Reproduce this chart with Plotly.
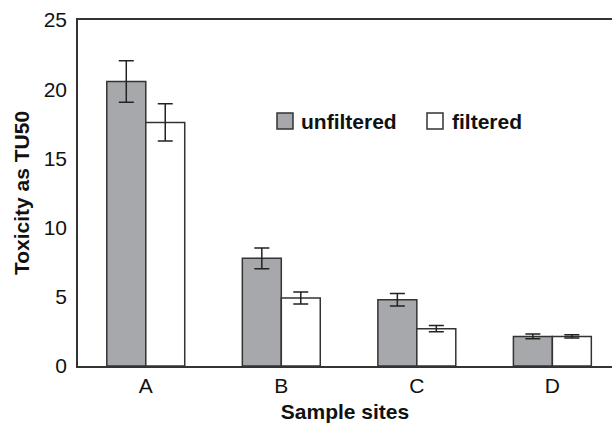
import plotly.graph_objects as go

sites = ["A", "B", "C", "D"]
unfiltered = [20.55, 7.78, 4.79, 2.14]
unfiltered_err = [1.5, 0.75, 0.45, 0.18]
filtered = [17.6, 4.91, 2.70, 2.14]
filtered_err = [1.35, 0.43, 0.22, 0.12]
y_ticks = [0, 5, 10, 15, 20, 25]

FONT = "Arial, 'Liberation Sans', Helvetica, sans-serif"
GRAY = "#a7a8ab"
EDGE = "#333333"

L, T, B = 78, 20, 57
W, H = 612, 423
PW, PH = W - L, H - T - B


def px_x(px):
    return (px - L) / PW


def px_y(py):
    return (H - B - py) / PH


fig = go.Figure()
fig.add_trace(go.Bar(
    x=sites, y=unfiltered, name="unfiltered",
    marker=dict(color=GRAY, line=dict(color=EDGE, width=1.5)),
    error_y=dict(type="data", array=unfiltered_err, visible=True,
                 color="#222222", thickness=1.5, width=7.5),
))
fig.add_trace(go.Bar(
    x=sites, y=filtered, name="filtered",
    marker=dict(color="white", line=dict(color=EDGE, width=1.5)),
    error_y=dict(type="data", array=filtered_err, visible=True,
                 color="#222222", thickness=1.5, width=7.5),
))

fig.update_layout(
    width=W, height=H,
    margin=dict(l=L, r=0, t=T, b=B, autoexpand=False),
    paper_bgcolor="white", plot_bgcolor="white",
    barmode="group", bargap=0.425, bargroupgap=0,
    showlegend=False,
    font=dict(family=FONT, color="#111111", size=21),
    xaxis=dict(
        range=[-0.5, 3.44], showline=True, linecolor=EDGE, linewidth=1.5,
        mirror=True, ticks="", showgrid=False, automargin=False,
        tickfont=dict(size=21), ticklabelstandoff=0,
        title=dict(text="<b>Sample sites</b>", font=dict(size=21), standoff=9),
    ),
    yaxis=dict(
        range=[0, 25], tickvals=y_ticks, showline=True, linecolor=EDGE,
        linewidth=1.5, mirror=False, ticks="", showgrid=False, zeroline=False,
        automargin=False,
        tickfont=dict(size=21), ticklabelstandoff=5,
        title=dict(text="<b>Toxicity as TU50</b>", font=dict(size=21), standoff=8),
    ),
)

# legend drawn manually (square swatches + bold labels)
legend_items = [("unfiltered", GRAY, 277, 301), ("filtered", "white", 427, 452)]
for label, color, sx, tx in legend_items:
    fig.add_shape(type="rect", xref="paper", yref="paper",
                  x0=px_x(sx), x1=px_x(sx + 16), y0=px_y(129), y1=px_y(113),
                  fillcolor=color, line=dict(color=EDGE, width=1.5))
    fig.add_annotation(xref="paper", yref="paper", x=px_x(tx), y=px_y(121),
                       xanchor="left", yanchor="middle", xshift=-2,
                       text=f"<b>{label}</b>", showarrow=False,
                       font=dict(size=21, family=FONT, color="#111111"))

fig.write_html(
    "out.html",
    config={"displayModeBar": False},
    post_script="document.body.style.margin='0';document.body.style.overflow='hidden';",
)
